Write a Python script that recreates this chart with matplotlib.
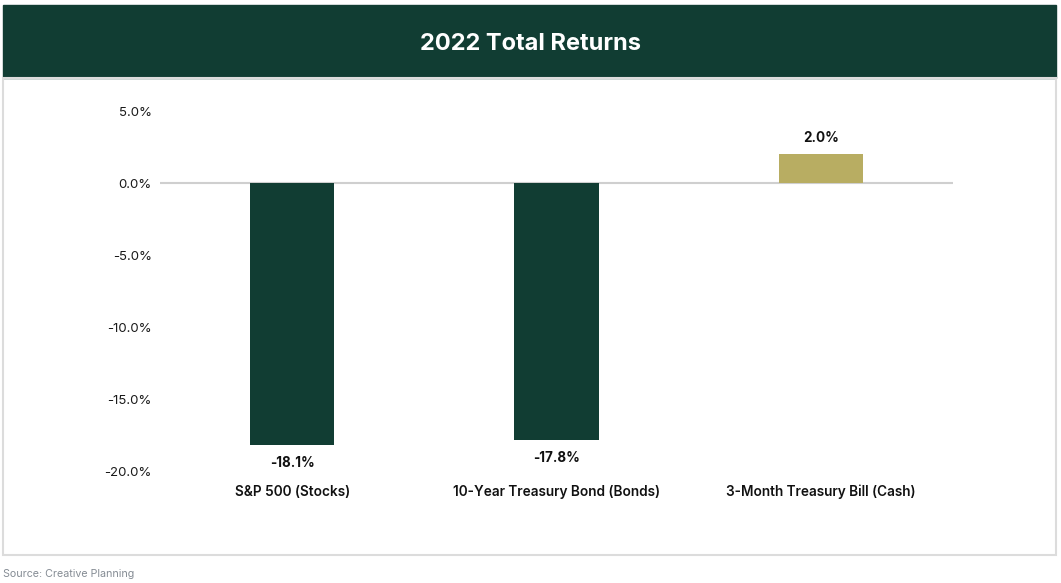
import matplotlib.pyplot as plt
from matplotlib.patches import Rectangle

# 2022 total returns by asset class
categories = ['S&P 500 (Stocks)', '10-Year Treasury Bond (Bonds)', '3-Month Treasury Bill (Cash)']
returns = [-18.1, -17.8, 2.0]
colors = ['#113d33', '#113d33', '#b8ad62']
yticks = [5, 0, -5, -10, -15, -20]

plt.rcParams['font.family'] = ['Inter', 'DejaVu Sans']

W, H = 1061, 583
fig = plt.figure(figsize=(W / 100, H / 100), dpi=100)

# header band and outer frame
fig.patches.append(Rectangle((3 / W, 1 - 78 / H), 1053 / W, 73 / H,
                             transform=fig.transFigure, color='#113d33', zorder=0))
fig.patches.append(Rectangle((3 / W, 1 - 555 / H), 1053 / W, 477 / H,
                             transform=fig.transFigure, fill=False,
                             edgecolor='#dcdcdc', lw=1.5, zorder=0))
fig.text(0.5, 1 - 44 / H, '2022 Total Returns', color='white', fontsize=17,
         fontweight='bold', ha='center', va='center')
fig.text(3 / W, 1 - 574 / H, 'Source: Creative Planning', color='#858c94',
         fontsize=7.7, ha='left', va='center')

# axes: x 160..953 px, y (5%) 111 .. (-20%) 472 px
ax = fig.add_axes([160 / W, 1 - 472 / H, 793 / W, 361 / H])
x = range(len(categories))
ax.bar(x, returns, width=0.32, color=colors, zorder=2)
ax.axhline(0, color='#cfcfcf', lw=1.5, zorder=1)
ax.set_xlim(-0.5, 2.5)
ax.set_ylim(-20, 5)
ax.set_yticks(yticks)
ax.set_yticklabels([f'{t:.1f}%' for t in yticks])
ax.tick_params(axis='y', length=0, pad=6, labelsize=9.5, labelcolor='#1a1a1a')
ax.set_xticks([])
for s in ax.spines.values():
    s.set_visible(False)

for i, v in enumerate(returns):
    off = -13 if v < 0 else 12
    ax.annotate(f'{v:.1f}%', (i, v), xytext=(0, off), textcoords='offset points',
                ha='center', va='center', fontsize=9.7, fontweight='bold', color='#111111')
    ax.text(i, -21.4, categories[i], ha='center', va='center', clip_on=False,
            fontsize=9.8, fontweight='semibold', color='#111111')

fig.savefig('out.png', dpi=100)
